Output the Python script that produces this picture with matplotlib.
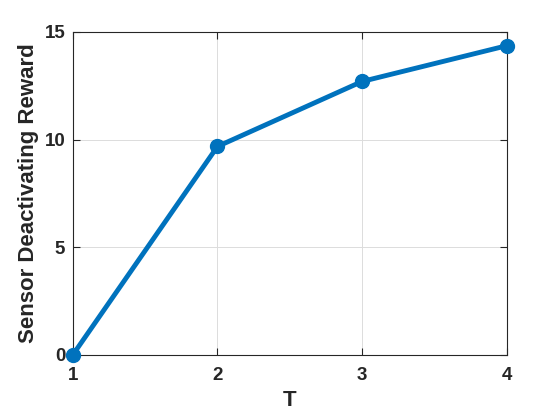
import matplotlib
matplotlib.use("Agg")
import matplotlib.pyplot as plt

# data
T = [1, 2, 3, 4]
reward = [0.0, 9.68, 12.70, 14.36]

xticks = [1, 2, 3, 4]
yticks = [0, 5, 10, 15]

plt.rcParams['font.family'] = ['Liberation Sans', 'DejaVu Sans']
plt.rcParams['font.weight'] = 'bold'

fig = plt.figure(figsize=(5.6, 4.2), dpi=100)
ax = fig.add_axes([0.130, 0.155, 0.775, 0.769])

ax.plot(T, reward, color='#0072BD', linewidth=3.5, marker='o',
        markersize=10, markerfacecolor='#0072BD', clip_on=False, zorder=3)

ax.set_xlim(1, 4)
ax.set_ylim(0, 15)
ax.set_xticks(xticks)
ax.set_yticks(yticks)
ax.tick_params(direction='in', length=5, width=0.8, top=True, right=True,
               labelsize=13.5, colors='#262626')
ax.tick_params(axis='x', pad=9)
ax.tick_params(axis='y', pad=5.5)
for lab in ax.get_xticklabels() + ax.get_yticklabels():
    lab.set_fontweight('bold')
ax.grid(True, color='#dcdcdc', linewidth=0.7)
ax.set_axisbelow(True)
for s in ax.spines.values():
    s.set_linewidth(0.8)
    s.set_color('#262626')

ax.set_xlabel('T', fontsize=16, fontweight='bold', color='#262626', labelpad=4)
ax.set_ylabel('Sensor Deactivating Reward', fontsize=16, fontweight='bold',
              color='#262626', labelpad=4)

fig.savefig('out.png', dpi=100)
